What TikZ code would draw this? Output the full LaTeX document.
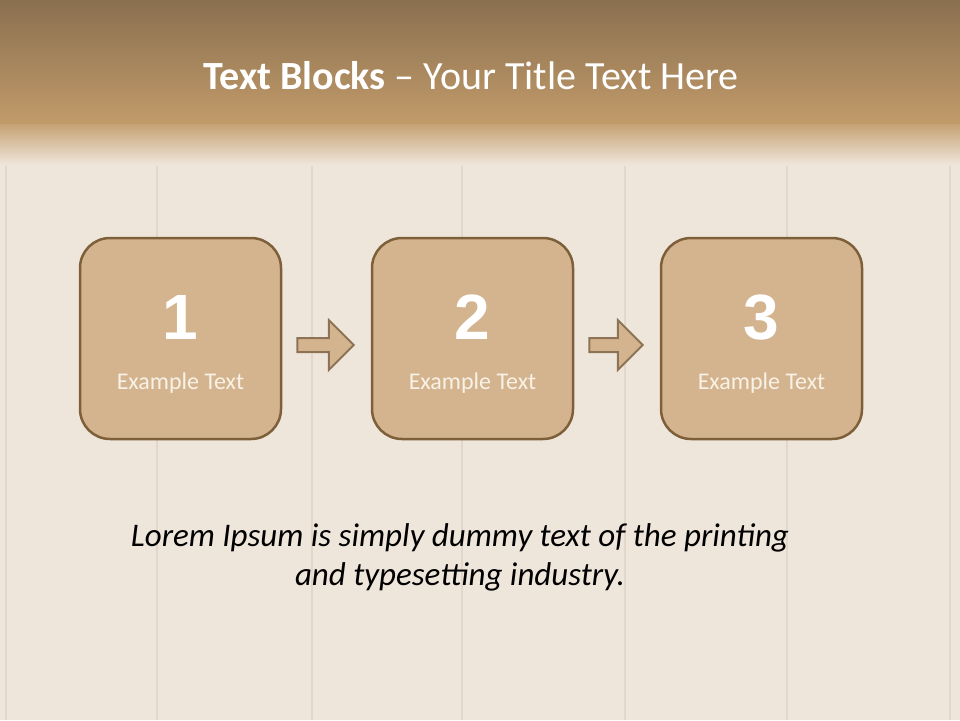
\documentclass[tikz,border=0pt]{standalone}
\usepackage{fontspec}
\setmainfont{Carlito}
\newfontfamily\numfont{Liberation Sans}
\definecolor{woodbg}{HTML}{EFE6DB}
\definecolor{plank}{HTML}{E2D7C9}
\definecolor{bandtop}{HTML}{8A7050}
\definecolor{bandbot}{HTML}{C29B6A}
\definecolor{boxfill}{HTML}{D4B48E}
\definecolor{boxline}{HTML}{7D5F3A}
\definecolor{arrline}{HTML}{8D7355}
\definecolor{labtext}{HTML}{F8F1E6}
\tikzset{
  stepbox/.style={draw=boxline, line width=2.5pt, fill=boxfill, rounded corners=30pt,
    minimum width=201pt, minimum height=201pt, inner sep=0pt},
  numtext/.style={text=white, font=\numfont\bfseries\fontsize{64}{64}\selectfont, inner sep=0pt},
  labeltext/.style={text=labtext, font=\fontsize{24}{28}\selectfont, inner sep=0pt},
  blockarrow/.style={fill=boxfill, draw=arrline, line width=2pt, line join=miter}
}
\begin{document}
\begin{tikzpicture}[x=1pt,y=-1pt]
\useasboundingbox (0,0) rectangle (960,720);
% background
\fill[woodbg] (0,0) rectangle (960,720);
\foreach \px in {6,157,312,462,625,787,950}{
  \draw[plank, line width=1.2pt] (\px,130) -- (\px,720);
}
\shade[top color=bandtop, bottom color=bandbot] (0,0) rectangle (960,125);
\shade[top color=bandbot!90!woodbg, bottom color=woodbg] (0,124.5) rectangle (960,165);
% title
\node[text=white, font=\fontsize{40}{44}\selectfont, inner sep=0pt] (title) at (471,76)
  {\textbf{Text Blocks} – Your Title Text Here};
% boxes
\node[stepbox] (b1) at (180.5,338.5) {};
\node[stepbox] (b2) at (472.5,338.5) {};
\node[stepbox] (b3) at (761.5,338.5) {};
\foreach \b/\n in {b1/1,b2/2,b3/3}{
  \node[numtext] (\b num) at ([yshift=21pt]\b.center) {\n};
  \node[labeltext] (\b lab) at ([yshift=-45pt]\b.center) {Example Text};
}
% block arrows
\foreach \a/\b in {b1/b2,b2/b3}{
  \coordinate (\a s) at ([xshift=15pt,yshift=-6.5pt]\a.east);
  \coordinate (\a t) at ([xshift=-17pt,yshift=-6.5pt]\b.west);
  \draw[blockarrow] ([yshift=-7pt]\a s) -- ([xshift=-25pt,yshift=-7pt]\a t) -- ([xshift=-25pt,yshift=-25pt]\a t)
    -- (\a t) -- ([xshift=-25pt,yshift=25pt]\a t) -- ([xshift=-25pt,yshift=7pt]\a t) -- ([yshift=7pt]\a s) -- cycle;
}
% body text
\node[font=\itshape\fontsize{33}{39}\selectfont, align=center, inner sep=0pt, text=black] (body) at (460,557)
  {Lorem Ipsum is simply dummy text of the printing\\and typesetting industry.};
\end{tikzpicture}
\end{document}
